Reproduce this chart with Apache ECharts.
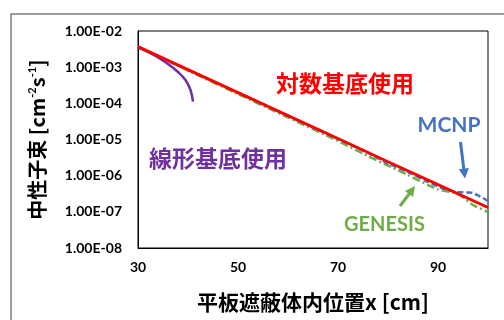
<!DOCTYPE html>
<html><head><meta charset="utf-8">
<script src="https://cdn.jsdelivr.net/npm/echarts@6/dist/echarts.min.js"></script>
<style>html,body{margin:0;padding:0;background:#fff}#c{width:504px;height:320px}</style>
</head><body><div id="c"></div>
<script>
// ---- data ----
const xTickLabels = ['30', '50', '70', '90'];
const yTickLabels = ['1.00E-08', '1.00E-07', '1.00E-06', '1.00E-05', '1.00E-04', '1.00E-03', '1.00E-02'];

const logBasisX = [30, 40, 50, 60, 70, 80, 90, 100];
const logBasisY = [3.70e-3, 8.55e-4, 1.98e-4, 4.57e-5, 1.06e-5, 2.44e-6, 5.65e-7, 1.31e-7];

const linBasisX = [30, 32, 34, 36, 38, 39.5, 40.5, 41];
const linBasisY = [3.61e-3, 2.63e-3, 1.85e-3, 1.22e-3, 7.35e-4, 4.42e-4, 2.34e-4, 1.12e-4];

const mcnpX = [30, 40, 50, 60, 70, 76, 80, 84, 88, 90, 92, 94, 96, 97, 98, 99, 100];
const mcnpY = [3.61e-3, 8.35e-4, 1.99e-4, 4.47e-5, 1.03e-5, 4.24e-6, 2.17e-6, 1.26e-6, 6.69e-7, 5.02e-7, 4.02e-7, 3.54e-7, 3.43e-7, 3.32e-7, 2.83e-7, 2.42e-7, 2.00e-7];

const genesisX = [30, 40, 50, 60, 70, 76, 80, 84, 88, 90, 94, 97, 100];
const genesisY = [3.61e-3, 8.09e-4, 1.81e-4, 4.06e-5, 9.09e-6, 3.50e-6, 1.91e-6, 1.04e-6, 5.52e-7, 4.15e-7, 3.11e-7, 1.55e-7, 9.9e-8];

const zip = (xs, ys) => xs.map((x, i) => [x, ys[i]]);
const LAT = 'Lato, "Open Sans", sans-serif';
const CJK = '"Noto Sans CJK JP", sans-serif';

const chart = echarts.init(document.getElementById('c'), null, {renderer: 'canvas'});
chart.setOption({
  animation: false,
  backgroundColor: '#fff',
  grid: {left: 138, top: 31, right: 16, bottom: 72, show: true, borderColor: '#000', borderWidth: 1, containLabel: false},
  xAxis: {
    type: 'value', min: 30, max: 100, interval: 10,
    axisLine: {show: true, lineStyle: {color: '#000', width: 1}},
    axisTick: {show: false}, splitLine: {show: false},
    axisLabel: {
      margin: 12, color: '#000', fontFamily: LAT, fontWeight: 'bold', fontSize: 14,
      formatter: v => xTickLabels.includes(String(v)) ? String(v) : ''
    },
    name: '平板遮蔽体内位置x [cm]', nameLocation: 'middle', nameGap: 44,
    nameTextStyle: {color: '#000', fontFamily: CJK, fontWeight: 'bold', fontSize: 21}
  },
  yAxis: {
    type: 'log', logBase: 10, min: 1e-8, max: 1e-2,
    axisLine: {show: true, lineStyle: {color: '#000', width: 1}},
    axisTick: {show: false}, splitLine: {show: false}, minorTick: {show: false},
    axisLabel: {
      margin: 16, color: '#000', fontFamily: LAT, fontWeight: 'bold', fontSize: 14,
      formatter: v => yTickLabels[Math.round(Math.log10(v)) + 8] || ''
    },
    name: '{a|中性子束 [cm}{s|-2}{a|s}{s|-1}{a|]}', nameLocation: 'middle', nameGap: 90, nameRotate: 90,
    nameTextStyle: {
      color: '#000',
      rich: {
        a: {fontFamily: CJK, fontWeight: 'bold', fontSize: 20, color: '#000'},
        s: {fontFamily: LAT, fontWeight: 'bold', fontSize: 11, color: '#000', verticalAlign: 'top', padding: [0, 0, 10, 0]}
      }
    }
  },
  series: [
    {name: 'GENESIS', type: 'line', data: zip(genesisX, genesisY), showSymbol: false, smooth: 0.2,
     lineStyle: {color: '#70AD47', width: 2.5, type: [8, 3, 2, 3]}, z: 2},
    {name: 'MCNP', type: 'line', data: zip(mcnpX, mcnpY), showSymbol: false, smooth: 0.3,
     lineStyle: {color: '#4472C4', width: 2.5, type: [6, 3]}, z: 3},
    {name: '線形基底使用', type: 'line', data: zip(linBasisX, linBasisY), showSymbol: false, smooth: 0.4,
     lineStyle: {color: '#7030A0', width: 2.5}, z: 4},
    {name: '対数基底使用', type: 'line', data: zip(logBasisX, logBasisY), showSymbol: false,
     lineStyle: {color: '#FF0000', width: 2.8}, z: 5}
  ],
  graphic: [
    {type: 'rect', shape: {x: 11, y: 14, width: 600, height: 400}, style: {fill: 'none', stroke: '#7f7f7f', lineWidth: 1.5}, z: 0, silent: true},
    {type: 'text', x: 345, y: 83, style: {text: '対数基底使用', fill: '#FF0000', font: 'bold 23px "Noto Sans CJK JP"', textAlign: 'center', textVerticalAlign: 'middle'}},
    {type: 'text', x: 218, y: 158, style: {text: '線形基底使用', fill: '#7030A0', font: 'bold 23px "Noto Sans CJK JP"', textAlign: 'center', textVerticalAlign: 'middle'}},
    {type: 'text', x: 449, y: 125, style: {text: 'MCNP', fill: '#4472C4', font: 'bold 21px Lato', textAlign: 'center', textVerticalAlign: 'middle'}},
    {type: 'text', x: 384.5, y: 225, style: {text: 'GENESIS', fill: '#70AD47', font: 'bold 20px Lato', textAlign: 'center', textVerticalAlign: 'middle'}},
    {type: 'line', shape: {x1: 460.5, y1: 142, x2: 463.8, y2: 169}, style: {stroke: '#4472C4', lineWidth: 3}},
    {type: 'polygon', shape: {points: [[465, 178.5], [458.8, 169.2], [468.8, 168.0]]}, style: {fill: '#4472C4'}},
    {type: 'line', shape: {x1: 400, y1: 206, x2: 409.5, y2: 193.5}, style: {stroke: '#70AD47', lineWidth: 3}},
    {type: 'polygon', shape: {points: [[415, 186], [413, 197], [405, 191]]}, style: {fill: '#70AD47'}}
  ]
});
</script></body></html>
